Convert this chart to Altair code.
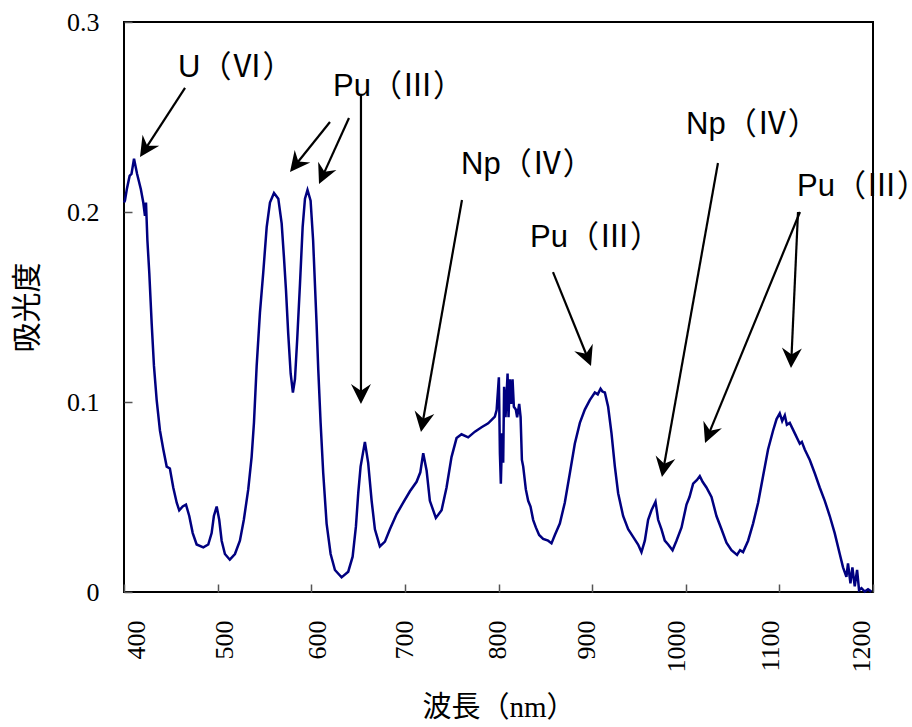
import math
import altair as alt
import pandas as pd

# ---- spectrum ----
wavelength = [400.0, 401.0, 403.0, 406.0, 408.0, 410.7, 414.0, 418.0, 420.6, 422.4, 423.5, 425.0,
              427.0, 429.6, 432.0, 434.9, 438.4, 442.0, 445.6, 449.0, 452.6, 456.3, 459.0, 462.7,
              466.2, 469.7, 473.4, 477.6, 484.7, 490.0, 493.6, 496.0, 499.0, 501.7, 504.3, 507.8,
              513.0, 518.5, 523.8, 528.0, 532.7, 536.3, 538.8, 541.7, 545.2, 548.7, 552.4, 555.9,
              560.2, 564.8, 568.4, 570.8, 573.0, 575.4, 578.0, 580.4, 582.6, 585.0, 588.0, 590.8,
              593.3, 596.0, 599.3, 602.0, 605.7, 607.5, 610.0, 612.8, 616.4, 620.7, 625.3, 632.4,
              639.5, 644.2, 647.7, 650.2, 652.7, 657.3, 660.8, 664.5, 668.0, 673.3, 678.7, 684.0,
              691.2, 698.2, 705.4, 712.5, 716.5, 719.6, 723.2, 726.7, 733.1, 739.2, 744.5, 749.8,
              755.2, 760.5, 767.6, 774.8, 781.9, 789.0, 796.1, 798.0, 800.4, 801.5, 802.5, 803.9,
              805.0, 806.0, 807.5, 809.7, 810.7, 812.1, 813.5, 815.0, 816.4, 818.5, 819.9, 822.1,
              823.6, 825.0, 826.4, 829.2, 831.7, 834.2, 837.0, 839.9, 843.4, 847.7, 853.0, 856.6,
              860.2, 865.5, 870.8, 876.2, 881.5, 886.9, 892.2, 897.5, 902.9, 906.0, 909.0, 911.0,
              913.6, 917.1, 920.7, 924.3, 927.8, 933.1, 938.5, 943.8, 949.1, 952.7, 956.3, 959.8,
              963.4, 967.7, 970.5, 974.1, 977.6, 981.2, 985.9, 990.1, 995.5, 1000.8, 1004.0, 1007.9,
              1012.0, 1015.0, 1018.0, 1022.1, 1027.5, 1032.8, 1038.2, 1043.5, 1048.8, 1054.8, 1058.0,
              1061.2, 1066.6, 1071.9, 1077.3, 1082.6, 1087.9, 1093.3, 1097.0, 1100.4, 1103.0, 1105.8,
              1108.0, 1111.1, 1116.5, 1121.8, 1124.0, 1127.1, 1132.5, 1137.8, 1143.1, 1148.5, 1153.8,
              1159.1, 1164.5, 1168.0, 1171.6, 1173.3, 1175.9, 1178.0, 1180.5, 1183.0, 1185.1, 1187.7,
              1191.2, 1194.7, 1198.3]
absorbance = [0.205, 0.206, 0.212, 0.219, 0.220, 0.228, 0.220, 0.212, 0.205, 0.198, 0.205, 0.185,
              0.168, 0.141, 0.119, 0.101, 0.085, 0.075, 0.066, 0.065, 0.055, 0.047, 0.043, 0.045,
              0.046, 0.040, 0.031, 0.025, 0.0235, 0.025, 0.031, 0.040, 0.045, 0.038, 0.027, 0.020,
              0.017, 0.020, 0.027, 0.038, 0.054, 0.071, 0.089, 0.119, 0.147, 0.168, 0.192, 0.205,
              0.210, 0.207, 0.194, 0.1765, 0.159, 0.136, 0.115, 0.105, 0.112, 0.133, 0.1625, 0.192,
              0.207, 0.2116, 0.206, 0.185, 0.141, 0.117, 0.089, 0.0625, 0.036, 0.020, 0.0116, 0.0077,
              0.0107, 0.0186, 0.0344, 0.052, 0.066, 0.079, 0.068, 0.048, 0.033, 0.024, 0.0265, 0.033,
              0.041, 0.047, 0.053, 0.058, 0.063, 0.073, 0.064, 0.048, 0.039, 0.043, 0.055, 0.071,
              0.081, 0.083, 0.0814, 0.0844, 0.0867, 0.0888, 0.0923, 0.0958, 0.113, 0.073, 0.057, 0.0835,
              0.068, 0.108, 0.092, 0.115, 0.092, 0.112, 0.099, 0.112, 0.0975, 0.096, 0.092, 0.099,
              0.092, 0.0695, 0.066, 0.054, 0.048, 0.045, 0.038, 0.034, 0.030, 0.028, 0.027, 0.0256,
              0.030, 0.036, 0.047, 0.0625, 0.078, 0.089, 0.096, 0.101, 0.105, 0.104, 0.107, 0.1055,
              0.105, 0.0975, 0.0835, 0.066, 0.052, 0.040, 0.033, 0.029, 0.025, 0.021, 0.027, 0.038,
              0.043, 0.0475, 0.038, 0.033, 0.027, 0.025, 0.022, 0.027, 0.034, 0.046, 0.050, 0.057,
              0.059, 0.061, 0.058, 0.055, 0.050, 0.040, 0.033, 0.026, 0.022, 0.0195, 0.022,
              0.021, 0.027, 0.036, 0.047, 0.061, 0.075, 0.085, 0.091, 0.094, 0.090, 0.093,
              0.088, 0.089, 0.0835, 0.078, 0.079, 0.075, 0.0695, 0.0625, 0.055, 0.048, 0.040,
              0.031, 0.020, 0.013, 0.008, 0.015, 0.0046, 0.013, 0.003, 0.0116, 0.001, 0.002,
              0.0002, 0.0014, 0.0002]

x_ticks = [400, 500, 600, 700, 800, 900, 1000, 1100, 1200]
y_ticks = [0, 0.1, 0.2, 0.3]

# ---- annotations (data units) ----
ann_text = ["U（Ⅵ）", "Pu（Ⅲ）", "Np（Ⅳ）", "Pu（Ⅲ）", "Np（Ⅳ）", "Pu（Ⅲ）"]
ann_x = [457.7, 623.2, 760.0, 833.7, 1000.3, 1118.8]
ann_y = [0.2758, 0.2658, 0.2247, 0.1863, 0.2458, 0.2132]

arrow_x0 = [465.2, 620.0, 640.3, 653.1, 761.0, 858.2, 1034.4, 1122.0, 1119.9]
arrow_y0 = [0.2653, 0.2474, 0.2495, 0.2616, 0.2063, 0.1684, 0.2258, 0.2000, 0.2000]
arrow_x1 = [417.1, 577.3, 608.3, 653.1, 717.2, 898.8, 974.6, 1020.6, 1112.4]
arrow_y1 = [0.2289, 0.2211, 0.2147, 0.0989, 0.0842, 0.1189, 0.0605, 0.0784, 0.1179]

W, H = 749, 570
XMIN, XMAX = 400, 1200
YMIN, YMAX = 0.0, 0.3
px_x = W / (XMAX - XMIN)
px_y = H / (YMAX - YMIN)

spec = pd.DataFrame({"x": wavelength, "y": absorbance})
text_df = pd.DataFrame({"label": ann_text, "x": ann_x, "y": ann_y})

shaft_rows, head_rows = [], []
head_len = 12.0
for x0, y0, x1, y1 in zip(arrow_x0, arrow_y0, arrow_x1, arrow_y1):
    dx = (x1 - x0) * px_x
    dy = -(y1 - y0) * px_y  # screen, down positive
    L = math.hypot(dx, dy)
    ang = math.degrees(math.atan2(dx, -dy)) % 360
    ex = x1 - dx / L * head_len / px_x
    ey = y1 + dy / L * head_len / px_y
    shaft_rows.append({"x": x0, "y": y0, "x2": ex, "y2": ey})
    head_rows.append({"x": x1, "y": y1, "angle": ang})
shafts_df = pd.DataFrame(shaft_rows)
heads_df = pd.DataFrame(head_rows)

xs = alt.Scale(domain=[XMIN, XMAX], nice=False, zero=False)
ys = alt.Scale(domain=[YMIN, YMAX], nice=False, zero=False)

label_offsets = [12, 7, 6, 0, -1, -6, -9, -9, -12]
x_label_offset = {
    "condition": [{"test": f"datum.value == {v}", "value": o} for v, o in zip(x_ticks, label_offsets)],
    "value": 0,
}

x_axis = alt.Axis(
    values=x_ticks, format="d", labelAngle=270, offset=-8, tickSize=8, tickColor="#555555",
    tickWidth=1.5, domain=False, grid=False, labelPadding=28, labelFont="Liberation Serif",
    labelFontSize=26, labelColor="black", labelOffset=x_label_offset, title="波長（nm）",
    titleFont="Liberation Serif, Noto Sans CJK JP", titleFontSize=29, titleFontWeight="normal",
    titleColor="black", titleY=123, titleBaseline="middle",
)
y_axis = alt.Axis(
    values=y_ticks, format=".1~f", offset=-8, tickSize=8, tickColor="#555555", tickWidth=1.5,
    domain=False, grid=False, labelPadding=25, labelFont="Liberation Serif", labelFontSize=26,
    labelColor="black", title="吸光度", titleFont="Noto Sans CJK JP", titleFontSize=30,
    titleFontWeight="normal", titleColor="black", titleX=-105, titleBaseline="middle",
)

X = alt.X("x:Q", scale=xs, axis=x_axis)
Y = alt.Y("y:Q", scale=ys, axis=y_axis)

line = alt.Chart(spec).mark_line(color="#000080", strokeWidth=2.5).encode(x=X, y=Y)

shafts = alt.Chart(shafts_df).mark_rule(color="black", strokeWidth=2.2).encode(
    x=X, y=Y, x2="x2:Q", y2="y2:Q",
)

heads = alt.Chart(heads_df).mark_point(
    shape="M0,0 L0.5,1 L0,0.67 L-0.5,1 Z", filled=True, color="black", opacity=1,
    size=1600, strokeWidth=0,
).encode(
    x=X, y=Y,
    angle=alt.Angle("angle:Q", scale=None),
)

texts = alt.Chart(text_df).mark_text(
    align="left", baseline="middle", font="Liberation Sans, Noto Sans CJK JP",
    fontSize=31, color="black",
).encode(x=X, y=Y, text="label:N")

chart = alt.layer(line, shafts, heads, texts).properties(
    width=W, height=H,
    autosize=alt.AutoSizeParams(type="none"),
    padding={"left": 124, "top": 22, "right": 39, "bottom": 135},
    background="white",
).configure_view(stroke="black", strokeWidth=2)

chart.save("out.html", embed_options={"renderer": "svg", "actions": False})
